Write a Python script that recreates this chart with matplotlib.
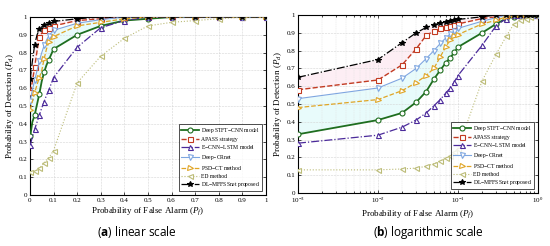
import numpy as np
import matplotlib
matplotlib.use('Agg')
import matplotlib.pyplot as plt

# false alarm probabilities used for every curve
pf = [0.001, 0.01, 0.02, 0.03, 0.04, 0.05, 0.06, 0.07, 0.08, 0.09,
      0.1, 0.2, 0.3, 0.4, 0.5, 0.6, 0.7, 0.8, 0.9, 1.0]

stftCnn = [0.33, 0.41, 0.45, 0.51, 0.57, 0.64, 0.69, 0.73, 0.76, 0.79,
           0.82, 0.90, 0.95, 0.98, 0.99, 1.0, 1.0, 1.0, 1.0, 1.0]
apass = [0.58, 0.635, 0.72, 0.81, 0.885, 0.91, 0.925, 0.935, 0.94, 0.945,
         0.95, 0.98, 0.99, 1.0, 1.0, 1.0, 1.0, 1.0, 1.0, 1.0]
cnnLstm = [0.28, 0.325, 0.37, 0.41, 0.45, 0.49, 0.525, 0.56, 0.59, 0.625,
           0.66, 0.83, 0.94, 0.98, 1.0, 1.0, 1.0, 1.0, 1.0, 1.0]
crnet = [0.53, 0.59, 0.645, 0.70, 0.755, 0.80, 0.84, 0.87, 0.895, 0.91,
         0.925, 0.965, 0.985, 1.0, 1.0, 1.0, 1.0, 1.0, 1.0, 1.0]
psdCt = [0.48, 0.525, 0.575, 0.62, 0.66, 0.70, 0.765, 0.82, 0.86, 0.88,
         0.89, 0.95, 0.97, 0.99, 1.0, 1.0, 1.0, 1.0, 1.0, 1.0]
ed = [0.13, 0.13, 0.135, 0.14, 0.15, 0.165, 0.18, 0.195, 0.21, 0.23,
      0.25, 0.63, 0.78, 0.88, 0.95, 0.97, 0.98, 0.99, 1.0, 1.0]
mffss = [0.65, 0.75, 0.845, 0.90, 0.93, 0.945, 0.955, 0.96, 0.965, 0.97,
         0.975, 0.99, 1.0, 1.0, 1.0, 1.0, 1.0, 1.0, 1.0, 1.0]

labels = ['Deep STFT$-$CNN model', 'APASS strategy', 'E$-$CNN$-$LSTM model',
          'Deep$-$CRnet', 'PSD$-$CT method', 'ED method', 'DL$-$MFFSSnet proposed']
series = [stftCnn, apass, cnnLstm, crnet, psdCt, ed, mffss]
colors = ['#1f6e1f', '#c23b22', '#4b2a9a', '#7ea6e0', '#e0a526', '#bcbc78', 'black']
styles = ['-', '--', '-.', '-', '--', ':', '-.']
markers = ['o', 's', '^', 'v', '>', '<', '*']
widths = [1.3, 1.0, 0.9, 0.8, 0.9, 0.8, 0.9]

xLinTicks = np.round(np.arange(0, 1.01, 0.1), 1)
yTicks = np.round(np.arange(0, 1.01, 0.1), 1)

plt.rcParams['font.family'] = ['Liberation Serif', 'DejaVu Serif']
plt.rcParams['mathtext.fontset'] = 'custom'
plt.rcParams['mathtext.rm'] = 'Liberation Serif'
plt.rcParams['mathtext.it'] = 'Liberation Serif:italic'
plt.rcParams['mathtext.bf'] = 'Open Sans:bold'

fig = plt.figure(figsize=(5.5, 2.46), dpi=100)
axLin = fig.add_axes([0.0545, 0.2073, 0.429, 0.7236])
axLog = fig.add_axes([0.5418, 0.2154, 0.4364, 0.7236])

# linear plot only marks every other point at low Pf
linEvery = [0, 2, 4, 6, 8, 10, 11, 12, 13, 14, 15, 16, 17, 18, 19]

for ax, isLog in [(axLin, False), (axLog, True)]:
    # faint shaded bands between curves
    ax.fill_between(pf, stftCnn, crnet, color='#bff4f4', alpha=0.35, lw=0, zorder=1)
    ax.fill_between(pf, apass, mffss, color='#fbd0e2', alpha=0.35, lw=0, zorder=1)
    for y, lab, c, ls, m, lw in zip(series, labels, colors, styles, markers, widths):
        face = c if m == '*' else 'white'
        ax.plot(pf, y, ls=ls, color=c, lw=lw, marker=m, markersize=4 if m == '*' else 3.6,
                markerfacecolor=face, markeredgecolor=c, markeredgewidth=0.8,
                markevery=None if isLog else linEvery, label=lab, zorder=3)
    ax.set_ylim(0, 1)
    ax.set_yticks(yTicks)
    ax.set_yticklabels(['0' if v == 0 else ('1' if v == 1 else '%g' % v) for v in yTicks])
    ax.tick_params(which='both', direction='in', top=True, right=True, labelsize=5, pad=2,
                   length=2.5, width=0.5)
    ax.tick_params(which='minor', length=1.5)
    ax.grid(True, which='major', ls='--', lw=0.4, color='#d4d4d4')
    ax.set_xlabel('Probability of False Alarm ($P_f$)', fontsize=6.5, labelpad=2)
    ax.set_ylabel('Probability of Detection ($P_d$)', fontsize=6.5, labelpad=2)
    for s in ax.spines.values():
        s.set_linewidth(0.8)
    leg = ax.legend(loc='lower right', fontsize=4.1, frameon=True, fancybox=False,
                    edgecolor='black', borderpad=0.3, labelspacing=0.3, handlelength=3.2,
                    handletextpad=0.4, borderaxespad=0.7)
    leg.get_frame().set_linewidth(0.6)
    leg.set_zorder(5)

axLin.set_xlim(0, 1)
axLin.set_xticks(xLinTicks)
axLin.set_xticklabels(['0' if v == 0 else ('1' if v == 1 else '%g' % v) for v in xLinTicks])

axLog.set_xscale('log')
axLog.set_xlim(1e-3, 1)
axLog.set_xticks([1e-3, 1e-2, 1e-1, 1])
axLog.grid(True, which='minor', axis='x', ls='--', lw=0.3, color='#e0e0e0')

# sub-figure captions
fig.text(0.249, 0.055, r'($\mathbf{a}$) linear scale', ha='center', va='center',
         fontsize=8.5, family=['Open Sans', 'DejaVu Sans'])
fig.text(0.778, 0.055, r'($\mathbf{b}$) logarithmic scale', ha='center', va='center',
         fontsize=8.5, family=['Open Sans', 'DejaVu Sans'])

fig.savefig('out.png', dpi=100)
